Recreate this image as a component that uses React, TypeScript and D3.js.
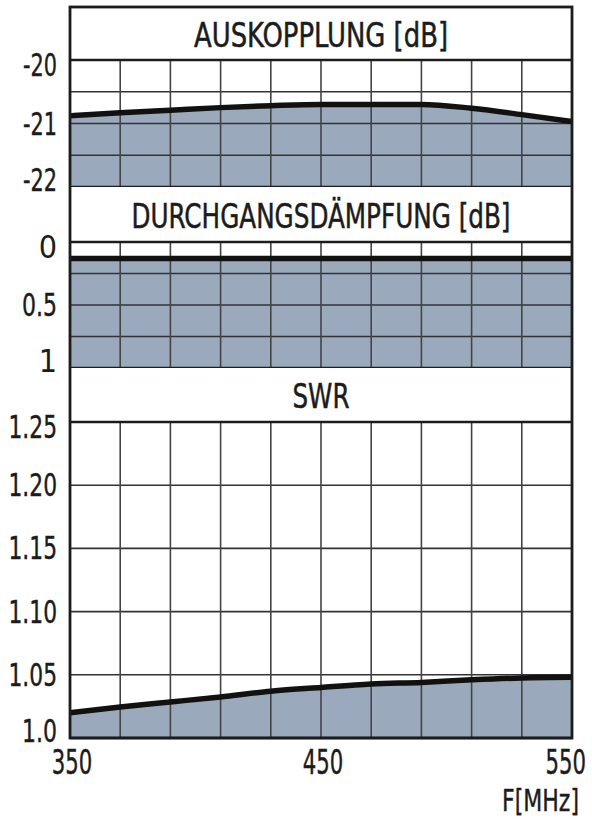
import React from "react";
import * as d3 from "d3";

// frequency grid (MHz)
const freqs = [350, 370, 390, 410, 430, 450, 470, 490, 510, 530, 550];
const freqLabels = [350, 450, 550];

// Auskopplung [dB]
const auskopplung = [-20.88, -20.83, -20.79, -20.75, -20.72, -20.7, -20.7, -20.7, -20.76, -20.86, -20.97];
const auskopplungGrid = [-20, -20.5, -21, -21.5, -22];
const auskopplungLabels = ["-20", "-21", "-22"];

// Durchgangsdämpfung [dB]
const durchgang = [0.13, 0.13, 0.13, 0.13, 0.13, 0.13, 0.13, 0.13, 0.13, 0.13, 0.13];
const durchgangGrid = [0, 0.25, 0.5, 0.75, 1];
const durchgangLabels = ["0", "0.5", "1"];

// SWR
const swr = [1.02, 1.0245, 1.0285, 1.0325, 1.037, 1.04, 1.0427, 1.044, 1.046, 1.0475, 1.048];
const swrGrid = [1.25, 1.2, 1.15, 1.1, 1.05, 1.0];
const swrLabels = ["1.25", "1.20", "1.15", "1.10", "1.05", "1.0"];

const W = 592;
const H = 820;
const left = 70;
const right = 572;
const font = "'DejaVu Sans Condensed', 'DejaVu Sans', sans-serif";
const fillColor = "#9aaabc";
const ink = "#1c1c1c";

// the original lettering is a very narrow face, so squeeze the glyphs to its widths
const charW = (s) => s.split("").reduce((w, c) => w + (c === "." ? 8 : c === "-" ? 7 : 13.5), 0);

const x = d3.scaleLinear().domain([350, 550]).range([left, right]);

const panels = [
  { title: "AUSKOPPLUNG [dB]", titleW: 254, boxTop: 7, top: 60, bottom: 187, domain: [-20, -22], values: auskopplung, grid: auskopplungGrid, labels: auskopplungLabels, tickVals: [-20, -21, -22] },
  { title: "DURCHGANGSDÄMPFUNG [dB]", titleW: 379, boxTop: 187, top: 242, bottom: 368, domain: [0, 1], values: durchgang, grid: durchgangGrid, labels: durchgangLabels, tickVals: [0, 0.5, 1] },
  { title: "SWR", titleW: 57, boxTop: 368, top: 422, bottom: 738, domain: [1.25, 1.0], values: swr, grid: swrGrid, labels: swrLabels, tickVals: [1.25, 1.2, 1.15, 1.1, 1.05, 1.0] },
];

function Label({ s, ...rest }) {
  const fit = s.length > 1 ? { textLength: charW(s), lengthAdjust: "spacingAndGlyphs", stroke: ink, strokeWidth: 0.4 } : {};
  return <text {...rest} {...fit} fontFamily={font} fill={ink}>{s}</text>;
}

function Panel({ p }) {
  const y = d3.scaleLinear().domain(p.domain).range([p.top, p.bottom]);
  const pts = freqs.map((f, i) => [f, p.values[i]]);
  const area = d3.area()
    .x((d) => x(d[0]))
    .y0(p.bottom)
    .y1((d) => y(d[1]))
    .curve(d3.curveMonotoneX);
  const line = d3.line()
    .x((d) => x(d[0]))
    .y((d) => y(d[1]))
    .curve(d3.curveMonotoneX);
  const n = p.tickVals.length;

  return (
    <g>
      <rect x={left} y={p.boxTop} width={right - left} height={p.top - p.boxTop} fill="#fff" />
      <text x={(left + right) / 2} y={(p.boxTop + p.top) / 2 + 1} textAnchor="middle" dominantBaseline="central"
        textLength={p.titleW} lengthAdjust="spacingAndGlyphs" stroke={ink} strokeWidth={0.5}
        fontFamily={font} fontSize={34} fill={ink}>{p.title}</text>
      <rect x={left} y={p.top} width={right - left} height={p.bottom - p.top} fill="#fff" />
      <path d={area(pts)} fill={fillColor} />
      {p.grid.slice(1, -1).map((v) => (
        <line key={"h" + v} x1={left} x2={right} y1={y(v)} y2={y(v)} stroke="#333" strokeWidth={1.6} />
      ))}
      {freqs.slice(1, -1).map((f) => (
        <line key={"v" + f} x1={x(f)} x2={x(f)} y1={p.top} y2={p.bottom} stroke="#444" strokeWidth={1.6} />
      ))}
      <path d={line(pts)} fill="none" stroke="#111" strokeWidth={5.5} />
      <line x1={left} x2={right} y1={p.top} y2={p.top} stroke={ink} strokeWidth={2.6} />
      <line x1={left} x2={right} y1={p.bottom} y2={p.bottom} stroke={ink} strokeWidth={2.6} />
      {p.tickVals.map((v, i) => (
        <Label key={"t" + i} s={p.labels[i]} x={57} y={y(v) + (i === 0 ? 5 : i === n - 1 ? -7 : 0)}
          textAnchor="end" dominantBaseline="central" fontSize={32} />
      ))}
    </g>
  );
}

export default function App() {
  return (
    <svg width={W} height={H} viewBox={`0 0 ${W} ${H}`}
      style={{ position: "absolute", left: 0, top: 0, background: "#fff" }}>
      {panels.map((p) => <Panel key={p.title} p={p} />)}
      <rect x={left} y={7} width={right - left} height={738 - 7} fill="none" stroke={ink} strokeWidth={2.8} />
      {freqLabels.map((f, i) => (
        <Label key={f} s={String(f)} x={i === freqLabels.length - 1 ? 586 : x(f) + 2} y={774}
          textAnchor={i === freqLabels.length - 1 ? "end" : "middle"} fontSize={33} />
      ))}
      <text x={579} y={811} textAnchor="end" textLength={77} lengthAdjust="spacingAndGlyphs"
        stroke={ink} strokeWidth={0.4} fontFamily={font} fontSize={31} fill={ink}>F[MHz]</text>
    </svg>
  );
}
